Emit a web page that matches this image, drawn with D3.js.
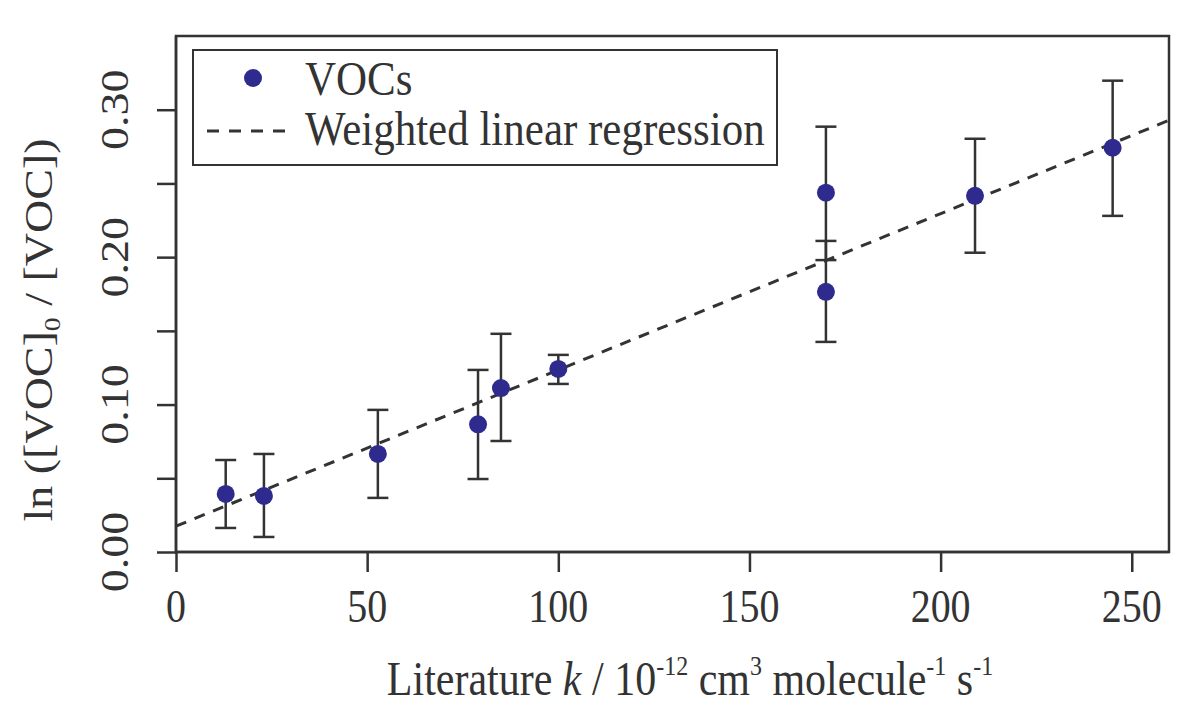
<!DOCTYPE html>
<html>
<head>
<meta charset="utf-8">
<script src="https://cdn.jsdelivr.net/npm/d3@7"></script>
<style>
  html, body { margin: 0; padding: 0; background: #fff; }
  svg text { font-family: "Liberation Serif", "Times New Roman", serif; fill: #333; }
</style>
</head>
<body>
<svg id="chart" width="1181" height="725"></svg>
<script>
// ---- data ----
const kValues   = [13, 23, 52.8, 79, 85, 100, 170, 170, 209, 245];
const lnRatio   = [0.0394, 0.038, 0.0665, 0.0866, 0.1112, 0.1242, 0.2437, 0.1765, 0.2416, 0.2742];
const errLow    = [0.0163, 0.0102, 0.0367, 0.0495, 0.0753, 0.114, 0.198, 0.1425, 0.203, 0.228];
const errHigh   = [0.0624, 0.0665, 0.0964, 0.1235, 0.148, 0.1337, 0.2885, 0.211, 0.2803, 0.3197];
const xTicks    = [0, 50, 100, 150, 200, 250];
const yTicks    = [0.00, 0.05, 0.10, 0.15, 0.20, 0.25, 0.30];
const yTickLabels = ["0.00", "", "0.10", "", "0.20", "", "0.30"];
const fitIntercept = 0.0175;
const fitSlope = 0.00106;
const legendLabels = ["VOCs", "Weighted linear regression"];

(function () {
const svg = d3.select("#chart");
const pLeft = 176, pRight = 1169, pTop = 36, pBottom = 552;
const x = d3.scaleLinear().domain([0, 260]).range([pLeft, pRight + 1]);
const y = d3.scaleLinear().domain([0, 0.35]).range([pBottom, pTop]);
const ink = "#333";
const dotColor = "#2f2a8e";
const SY = 1.15;

// frame
svg.append("rect").attr("x", pLeft).attr("y", pTop)
  .attr("width", pRight - pLeft).attr("height", pBottom - pTop)
  .attr("fill", "none").attr("stroke", ink).attr("stroke-width", 2.5);

// x axis
const xAxis = svg.append("g").attr("transform", `translate(0,${pBottom})`)
  .call(d3.axisBottom(x).tickValues(xTicks).tickSize(20).tickFormat(""));
xAxis.select(".domain").attr("stroke", ink).attr("stroke-width", 2.5)
  .attr("d", `M${x(0)},0H${pRight}`);
xAxis.selectAll(".tick line").attr("stroke", ink).attr("stroke-width", 2.5);
xTicks.forEach(t => {
  svg.append("text")
    .attr("transform", `translate(${x(t)},${pBottom + 70}) scale(1,${SY})`)
    .attr("text-anchor", "middle").attr("font-size", 40).text(t);
});

// y axis
const yAxis = svg.append("g").attr("transform", `translate(${pLeft},0)`)
  .call(d3.axisLeft(y).tickValues(yTicks).tickSize(19).tickFormat(""));
yAxis.select(".domain").attr("stroke", ink).attr("stroke-width", 2.5)
  .attr("d", `M0,${y(0)}V${pTop}`);
yAxis.selectAll(".tick line").attr("stroke", ink).attr("stroke-width", 2.5);
yTicks.forEach((t, i) => {
  if (!yTickLabels[i]) return;
  svg.append("text")
    .attr("transform", `translate(128,${y(t)}) scale(1,${SY}) rotate(-90)`)
    .attr("text-anchor", "middle").attr("font-size", 40).text(yTickLabels[i]);
});

// regression line
svg.append("line")
  .attr("x1", x(0)).attr("y1", y(fitIntercept))
  .attr("x2", x(260)).attr("y2", y(fitIntercept + fitSlope * 260))
  .attr("stroke", ink).attr("stroke-width", 3).attr("stroke-dasharray", "11,9");

// error bars
const capW = 10.5;
const eb = svg.append("g").attr("stroke", ink).attr("stroke-width", 2.5);
kValues.forEach((k, i) => {
  const cx = x(k);
  eb.append("line").attr("x1", cx).attr("x2", cx).attr("y1", y(errLow[i])).attr("y2", y(errHigh[i]));
  eb.append("line").attr("x1", cx - capW).attr("x2", cx + capW).attr("y1", y(errLow[i])).attr("y2", y(errLow[i]));
  eb.append("line").attr("x1", cx - capW).attr("x2", cx + capW).attr("y1", y(errHigh[i])).attr("y2", y(errHigh[i]));
});

// points
svg.append("g").selectAll("circle").data(kValues).join("circle")
  .attr("cx", d => x(d)).attr("cy", (d, i) => y(lnRatio[i]))
  .attr("r", 9).attr("fill", dotColor);

// legend
const lg = svg.append("g");
lg.append("rect").attr("x", 193).attr("y", 50).attr("width", 584).attr("height", 115)
  .attr("fill", "#fff").attr("stroke", ink).attr("stroke-width", 2);
lg.append("circle").attr("cx", 253).attr("cy", 78).attr("r", 9).attr("fill", dotColor);
lg.append("line").attr("x1", 207).attr("x2", 292).attr("y1", 131).attr("y2", 131)
  .attr("stroke", ink).attr("stroke-width", 3).attr("stroke-dasharray", "12,10");
lg.append("text").attr("transform", `translate(305,95) scale(1,${SY})`)
  .attr("font-size", 43).text(legendLabels[0]);
lg.append("text").attr("transform", `translate(305,145) scale(1,${SY})`)
  .attr("font-size", 43).text(legendLabels[1]);

// x axis title
const xt = svg.append("text")
  .attr("transform", `translate(690,695) scale(1,${SY})`)
  .attr("text-anchor", "middle").attr("font-size", 42);
xt.append("tspan").text("Literature ");
xt.append("tspan").attr("font-style", "italic").text("k");
xt.append("tspan").text(" / 10");
xt.append("tspan").attr("font-size", 24).attr("dy", -17).text("-12");
xt.append("tspan").attr("dy", 17).text(" cm");
xt.append("tspan").attr("font-size", 24).attr("dy", -17).text("3");
xt.append("tspan").attr("dy", 17).text(" molecule");
xt.append("tspan").attr("font-size", 24).attr("dy", -17).text("-1");
xt.append("tspan").attr("dy", 17).text(" s");
xt.append("tspan").attr("font-size", 24).attr("dy", -17).text("-1");

// y axis title
const yt = svg.append("text")
  .attr("transform", `translate(52,330) scale(1,${SY}) rotate(-90)`)
  .attr("text-anchor", "middle").attr("font-size", 40);
yt.append("tspan").text("ln ([VOC]");
yt.append("tspan").attr("font-size", 24).attr("dy", 8).text("0");
yt.append("tspan").attr("dy", -8).text(" / [VOC])");
})();
</script>
</body>
</html>
